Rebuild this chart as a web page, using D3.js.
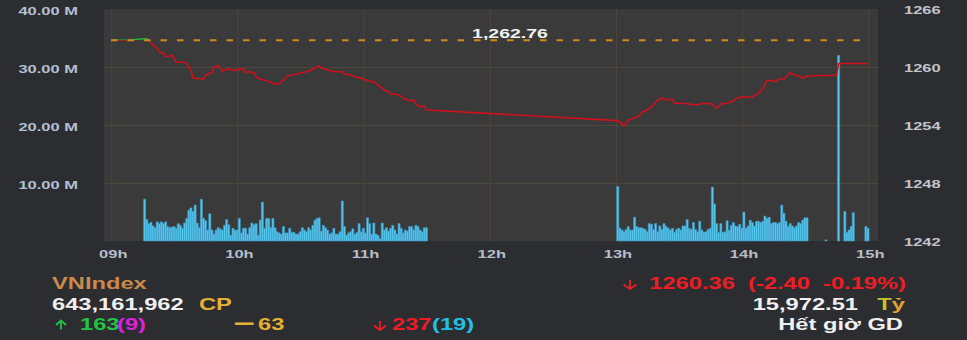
<!DOCTYPE html>
<html><head><meta charset="utf-8">
<script src="https://cdn.jsdelivr.net/npm/d3@7"></script>
<style>html,body{margin:0;padding:0;background:#2c2d31;overflow:hidden}</style>
</head><body><div id="chart"></div>
<script>
// ---------------- DATA ----------------
const hourTicks = ["09:00","10:00","11:00","12:00","13:00","14:00","15:00"];
const volTicks = [10, 20, 30, 40];
const priceTicks = [1242, 1248, 1254, 1260, 1266];
const refPrice = 1262.76;

const priceTimes = ["09:00","09:09","09:17","09:18","09:20","09:22","09:23","09:25","09:26","09:28","09:29","09:30","09:31","09:35","09:36","09:38","09:39","09:44","09:45","09:48","09:49","09:51","09:52","09:53","09:54","09:56","09:58","10:00","10:01","10:03","10:04","10:06","10:08","10:09","10:11","10:13","10:16","10:18","10:20","10:22","10:24","10:28","10:33","10:36","10:39","10:40","10:43","10:46","10:50","10:51","10:54","10:56","10:59","11:02","11:05","11:06","11:08","11:10","11:12","11:13","11:16","11:18","11:20","11:22","11:24","11:25","11:27","11:29","11:30",
"13:01","13:04","13:06","13:08","13:11","13:13","13:15","13:18","13:20","13:23","13:24","13:27","13:28","13:31","13:35","13:38","13:40","13:43","13:46","13:48","13:50","13:54","13:56","13:57","14:00","14:02","14:05","14:08","14:10","14:12","14:14","14:16","14:18","14:20","14:23","14:24","14:28","14:29","14:31","14:45","14:46","15:00"];
const priceValues = [1262.76,1262.80,1262.95,1262.72,1262.28,1261.93,1261.58,1261.42,1261.07,1261.14,1261.24,1260.90,1260.49,1260.49,1260.38,1259.69,1258.83,1258.76,1259.17,1259.41,1260.03,1260.13,1259.87,1259.51,1259.69,1259.82,1259.62,1259.76,1259.69,1259.87,1259.45,1259.51,1259.41,1259.00,1258.73,1258.66,1258.42,1258.24,1258.24,1258.66,1259.10,1259.28,1259.51,1259.76,1260.13,1259.87,1259.69,1259.51,1259.51,1259.28,1259.17,1259.00,1258.83,1258.58,1258.48,1258.31,1257.96,1257.62,1257.45,1257.21,1257.18,1256.93,1256.66,1256.51,1256.59,1256.17,1255.89,1255.97,1255.55,
1254.45,1253.90,1254.52,1254.65,1254.93,1255.38,1255.55,1256.07,1256.59,1256.79,1256.59,1256.66,1256.25,1256.25,1256.17,1256.07,1256.17,1256.25,1256.17,1255.73,1256.17,1256.31,1256.51,1256.72,1256.93,1256.87,1256.93,1257.28,1257.80,1258.66,1258.58,1258.48,1258.83,1258.73,1259.41,1259.28,1259.00,1258.83,1259.07,1259.14,1260.36,1260.36];

// volumes in millions of shares, one bar per minute
const amStart = "09:16";
const amVolumes = [7.2,3.7,3.0,3.2,2.6,2.3,3.3,3.0,3.3,3.0,3.3,2.5,2.3,2.4,2.5,2.2,3.0,2.7,2.2,3.1,3.9,5.3,5.7,5.1,6.2,3.1,2.3,
7.2,3.9,3.5,1.9,4.7,1.9,1.2,1.9,2.3,2.1,1.9,2.7,3.7,2.8,1.0,2.2,1.9,1.9,3.9,1.4,2.2,2.2,1.2,2.3,3.1,2.8,3.0,1.0,3.6,
6.7,2.2,3.9,3.9,2.3,3.9,2.3,1.6,1.4,1.2,2.5,1.4,1.4,2.2,1.5,1.5,1.2,1.2,1.6,2.3,1.9,1.6,2.3,1.9,2.7,3.6,3.9,4.0,1.7,2.7,2.3,1.9,1.2,1.4,2.2,1.2,1.2,1.6,
6.9,2.5,1.0,1.4,1.6,2.1,1.2,1.5,3.0,1.6,2.2,1.4,4.0,3.0,1.2,3.1,1.2,1.0,0.4,3.1,1.9,2.3,1.7,2.2,2.7,1.9,1.2,3.0,2.2,1.4,1.9,1.7,2.5,2.5,1.9,2.7,2.5,1.9,1.6,2.3,2.3];
const pmStart = "13:01";
const pmVolumes = [9.4,2.2,1.9,1.6,2.0,2.5,1.9,1.9,4.1,2.5,2.3,2.3,2.2,2.0,1.6,3.0,2.9,2.0,3.0,1.6,2.6,2.0,3.0,2.5,2.2,1.9,2.2,1.5,2.0,2.2,1.9,2.6,2.6,3.7,2.2,2.0,3.2,2.0,1.6,3.4,1.9,1.5,1.6,2.0,2.2,
9.3,6.4,3.0,1.5,3.0,1.5,1.6,3.5,1.9,2.7,3.2,2.6,2.5,2.9,2.2,5.0,2.2,2.6,3.6,3.2,2.6,3.4,3.4,3.2,3.4,4.3,3.9,4.1,3.0,3.2,3.2,3.0,3.2,
6.2,4.8,3.4,2.5,3.0,2.6,2.3,2.6,3.2,3.0,3.6,4.0,4.0];
const lateTimes = ["14:40","14:46","14:49","14:50","14:51","14:52","14:53","14:59","15:00"];
const lateVolumes = [0.2,32.0,5.1,1.5,1.9,2.5,4.9,2.5,2.2];

// ---------------- LAYOUT ----------------
const SX = 1.5;            // horizontal stretch of the original widget
const W = 967, H = 340, VW = W / SX;
const toMin = s => { const [h, m] = s.split(":").map(Number); return h * 60 + m; };
const plotL = 104 / SX, plotR = 878 / SX, plotT = 9, plotB = 241;
const FONT = "'Liberation Sans', Arial, sans-serif";

const x = d3.scaleLinear().domain([toMin("09:00"), toMin("15:00")]).range([111 / SX, 868 / SX]);
const yVol = d3.scaleLinear().domain([0, 40]).range([plotB, plotT]);
const yPx = d3.scaleLinear().domain([1242, 1266]).range([plotB, plotT]);

const svg = d3.select("#chart").append("svg")
  .attr("width", W).attr("height", H)
  .attr("viewBox", `0 0 ${VW} ${H}`)
  .attr("preserveAspectRatio", "none")
  .style("display", "block").style("background", "#2c2d31");

svg.append("rect").attr("x", plotL).attr("y", plotT)
  .attr("width", plotR - plotL).attr("height", plotB - plotT).attr("fill", "#3a3a3a");

// grid
const gridColor = "#4d473c";
const gx = svg.append("g").attr("transform", `translate(0,${plotB})`)
  .call(d3.axisBottom(x).tickValues(hourTicks.map(toMin)).tickSize(-(plotB - plotT)).tickFormat(""));
const gy = svg.append("g").attr("transform", `translate(${plotL},0)`)
  .call(d3.axisLeft(yPx).tickValues([1248, 1254, 1260]).tickSize(-(plotR - plotL)).tickFormat(""));
[gx, gy].forEach(g => {
  g.select(".domain").remove();
  g.selectAll("line").attr("stroke", gridColor).attr("stroke-width", 1).attr("vector-effect", "non-scaling-stroke");
});

// volume bars
const bars = [];
amVolumes.forEach((v, i) => bars.push({ t: toMin(amStart) + i, v }));
pmVolumes.forEach((v, i) => bars.push({ t: toMin(pmStart) + i, v }));
lateVolumes.forEach((v, i) => bars.push({ t: toMin(lateTimes[i]), v }));
const bw = x(1) - x(0);
svg.append("g").selectAll("rect").data(bars).join("rect")
  .attr("x", d => x(d.t) - bw / 2).attr("width", bw)
  .attr("y", d => yVol(d.v)).attr("height", d => yVol(0) - yVol(d.v))
  .attr("fill", "#55c8ee").attr("stroke", "#3d97c4").attr("stroke-width", 0.6)
  .attr("vector-effect", "non-scaling-stroke");

// price line, green above reference, red below
const pts = priceTimes.map((t, i) => ({ t: toMin(t), v: priceValues[i] }));
const line = d3.line().x(d => x(d.t)).y(d => yPx(d.v));
const yRef = yPx(refPrice);
const defs = svg.append("defs");
defs.append("clipPath").attr("id", "above").append("rect")
  .attr("x", 0).attr("y", 0).attr("width", VW).attr("height", yRef);
defs.append("clipPath").attr("id", "below").append("rect")
  .attr("x", 0).attr("y", yRef).attr("width", VW).attr("height", H);
[["above", "#1fae3c"], ["below", "#d0101c"]].forEach(([id, c]) => {
  svg.append("path").datum(pts).attr("d", line).attr("clip-path", `url(#${id})`)
    .attr("fill", "none").attr("stroke", c).attr("stroke-width", 1.6)
    .attr("stroke-linejoin", "round").attr("vector-effect", "non-scaling-stroke");
});

// reference dashed line
svg.append("line").attr("x1", x(toMin("09:00"))).attr("x2", x(toMin("15:00")))
  .attr("y1", yRef).attr("y2", yRef)
  .attr("stroke", "#d18b1a").attr("stroke-width", 2).attr("stroke-dasharray", "6.5,10")
  .attr("vector-effect", "non-scaling-stroke");
svg.append("text").attr("x", 510 / SX).attr("y", 38).attr("text-anchor", "middle")
  .attr("font-family", FONT).attr("font-weight", "bold").attr("font-size", 13)
  .attr("fill", "#f2f2f2").text(d3.format(",.2f")(refPrice));

// axes labels
const axL = svg.append("g").attr("transform", `translate(${78 / SX},1.5)`)
  .call(d3.axisLeft(yVol).tickValues(volTicks).tickFormat(d => d3.format(".2f")(d) + " M").tickSize(0).tickPadding(0));
const axR = svg.append("g").attr("transform", `translate(${904 / SX},1)`)
  .call(d3.axisRight(yPx).tickValues(priceTicks).tickFormat(d3.format("d")).tickSize(0).tickPadding(0));
const axB = svg.append("g").attr("transform", `translate(1,250.5)`)
  .call(d3.axisBottom(x).tickValues(hourTicks.map(toMin)).tickFormat(m => String(m / 60).padStart(2, "0") + "h").tickSize(0).tickPadding(0));
[[axL, "#b3c0d4"], [axR, "#c3c4cc"], [axB, "#b6bec9"]].forEach(([g, c]) => {
  g.select(".domain").remove();
  g.selectAll("text").attr("font-family", FONT).attr("font-weight", "bold").attr("font-size", 11).attr("fill", c);
});

// info block
function txt(xs, y, s, color, opts = {}) {
  const t = svg.append("text")
    .attr("text-anchor", opts.anchor || "start")
    .attr("font-family", opts.family || FONT).attr("font-weight", opts.weight || "bold")
    .attr("font-size", opts.size || 15.8).attr("fill", color)
    .attr("xml:space", "preserve").text(s);
  if (opts.scale) t.attr("transform", `translate(${xs / SX},${y}) scale(${opts.scale[0]},${opts.scale[1]})`);
  else t.attr("x", xs / SX).attr("y", y);
  return t;
}
// arrow icons (screen-pixel geometry: centre x, top y, width, height)
function arrow(cx, top, w, h, up, color) {
  const c = cx / SX, l = (cx - w / 2) / SX, r = (cx + w / 2) / SX, head = h * 0.5;
  const tip = up ? top : top + h, base = up ? top + h : top;
  const hy = up ? top + head : top + h - head;
  svg.append("path")
    .attr("d", `M${c},${base}L${c},${tip}M${l},${hy}L${c},${tip}L${r},${hy}`)
    .attr("fill", "none").attr("stroke", color).attr("stroke-width", 1.8)
    .attr("stroke-linecap", "butt").attr("stroke-linejoin", "miter")
    .attr("vector-effect", "non-scaling-stroke");
}
txt(52, 289, "VNIndex", "#c98a4c");
txt(52, 310.5, "643,161,962", "#f0f0f0");
txt(199, 310.5, "CP", "#e6b034");
arrow(61, 320.5, 10, 9, true, "#22c443");
txt(80, 330.5, "163", "#22c443");
txt(117, 330.5, "(9)", "#dd22dd");
txt(235, 331, "—", "#e6b034", { size: 15.8, scale: [0.78, 1.6] });
txt(258, 330.5, "63", "#e6b034");
arrow(380, 321, 12, 9, false, "#f01c24");
txt(392, 330.5, "237", "#f01c24");
txt(432, 330.5, "(19)", "#22bfe6");

arrow(630, 280, 13, 9, false, "#f01c24");
txt(906, 289, "1260.36  (-2.40  -0.19%)", "#f01c24", { anchor: "end" });
txt(858, 310.5, "15,972.51", "#f0f0f0", { anchor: "end" });
const ty = txt(905, 310.5, "", "#d8b02a", { anchor: "end" });
ty.append("tspan").attr("fill", "#c9c226").text("T");
ty.append("tspan").attr("fill", "#e2a232").text("ỷ");
txt(903, 330.5, "Hết giờ GD", "#f0f0f0", { anchor: "end" });
</script></body></html>
